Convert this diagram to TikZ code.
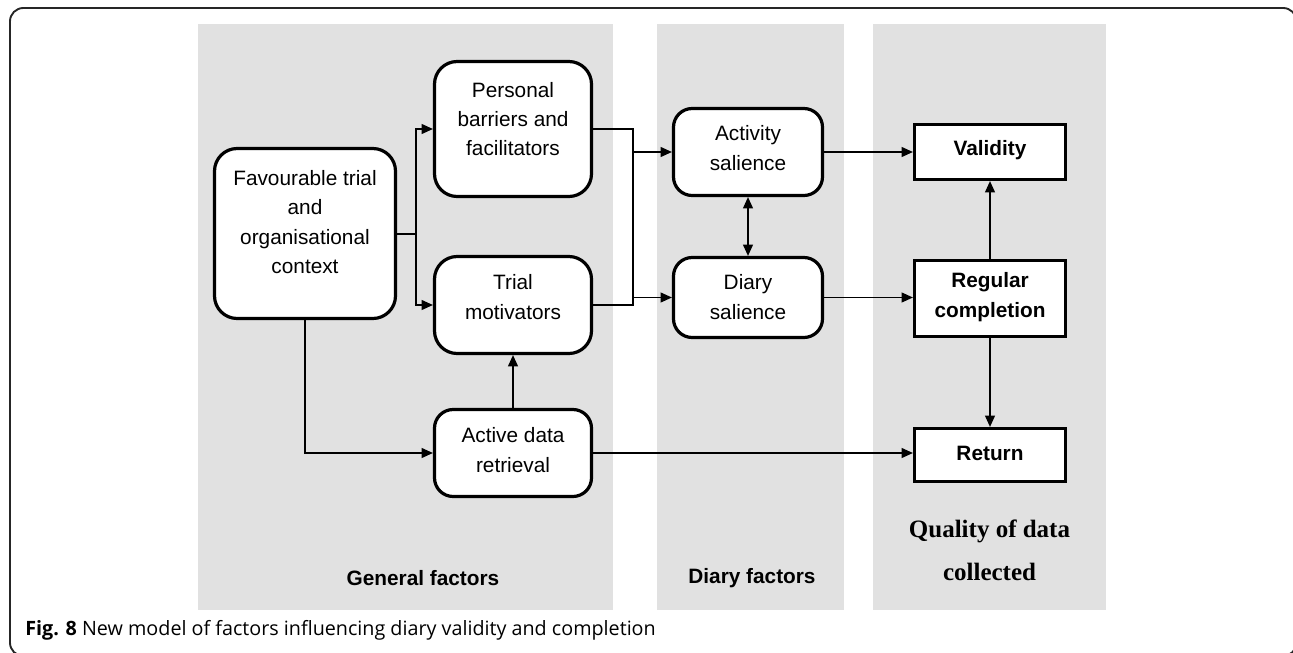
\documentclass[tikz,border=0pt]{standalone}
\usepackage{fontspec}
\setmainfont{Liberation Sans}
\newfontfamily\serifbold{Liberation Serif}
\newfontfamily\capfont{Open Sans}
\usetikzlibrary{arrows.meta,calc}
\definecolor{panel}{RGB}{225,225,225}
\begin{document}
\begin{tikzpicture}[x=0.75pt,y=-0.75pt,
  rbox/.style={draw=black, line width=2.4pt, rounded corners=17pt, fill=white, inner sep=0pt},
  sbox/.style={draw=black, line width=2.4pt, fill=white, inner sep=0pt},
  txt/.style={align=center, font=\fontsize{15.6}{22}\selectfont, inner sep=0pt},
  btxt/.style={align=center, font=\fontsize{15.6}{22}\selectfont\bfseries, inner sep=0pt},
  conn/.style={line width=0.9pt, draw=black},
  arr/.style={conn, -{Triangle[length=8.5pt,width=7.5pt]}},
  darr/.style={conn, {Triangle[length=8.5pt,width=7.5pt]}-{Triangle[length=8.5pt,width=7.5pt]}},
]
\path[use as bounding box] (0,0) rectangle (1293,653);
\clip (0,0) rectangle (1293,653);
% outer frame
\draw[line width=1.4pt, rounded corners=10pt, draw=black!85] (10,8) rectangle (1296.5,656);
% panels
\fill[panel] (198,24) rectangle (613,610);
\fill[panel] (657,24) rectangle (844,610);
\fill[panel] (873,24) rectangle (1106,610);

% boxes
\node[rbox, minimum width=135.75pt, minimum height=127.5pt] (fav) at (305,233.5) {};
\node[rbox, minimum width=117.75pt, minimum height=101.25pt] (per) at (513,129) {};
\node[rbox, minimum width=117.75pt, minimum height=72.75pt] (tri) at (513,305) {};
\node[rbox, rounded corners=14pt, minimum width=117.75pt, minimum height=65.25pt] (act) at (513,453) {};
\node[rbox, rounded corners=14pt, minimum width=111.75pt, minimum height=65.25pt] (asal) at (748,152) {};
\node[rbox, rounded corners=14pt, minimum width=111.75pt, minimum height=60pt] (dsal) at (748,297.5) {};
\node[sbox, minimum width=113.25pt, minimum height=41.25pt] (val) at (990,152) {};
\node[sbox, minimum width=113.25pt, minimum height=57pt] (reg) at (990,298.5) {};
\node[sbox, minimum width=113.25pt, minimum height=39.75pt] (ret) at (990,455) {};

% box texts
\node[txt] (fav-t) at (305,222) {Favourable trial\\and\\organisational\\context};
\node[txt] (per-t) at (513,119) {Personal\\barriers and\\facilitators};
\node[txt] (tri-t) at (513,297) {Trial\\motivators};
\node[txt] (act-t) at (513,450) {Active data\\retrieval};
\node[txt] (asal-t) at (748,148) {Activity\\salience};
\node[txt] (dsal-t) at (748,297) {Diary\\salience};
\node[btxt] (val-t) at (990,150) {Validity};
\node[btxt] (reg-t) at (990,297) {Regular\\completion};
\node[btxt] (ret-t) at (990,453) {Return};

% connectors
\coordinate (split) at (416,234);
\draw[conn] (fav.east |- split) -- (split);
\draw[arr] (split) |- (per.west);
\draw[arr] (split) |- (tri.west);
\coordinate (jt) at (633,129);
\coordinate (jb) at (633,305);
\draw[conn] (per.east) -- (jt) -- (jb) -- (tri.east);
\draw[arr] (jt |- asal.west) -- (asal.west);
\draw[arr] (jt |- dsal.west) -- (dsal.west);
\draw[arr] (asal.east) -- (val.west);
\draw[arr] (dsal.east) -- (dsal.east -| reg.west);
\draw[darr] (asal.south) -- (dsal.north);
\draw[arr] (reg.north) -- (val.south);
\draw[arr] (reg.south) -- (ret.north);
\draw[arr] (act.north) -- (tri.south);
\draw[arr] (fav.south) |- (act.west);
\draw[arr] (act.east) -- (act.east -| ret.west);

% panel labels
\node[btxt] (gen-l) at (423,578) {General factors};
\node[btxt] (dia-l) at (752,578) {Diary factors};
\node[align=center, inner sep=0pt, font=\serifbold\fontsize{18.75}{32.25}\selectfont\bfseries] (qual-l) at (989.5,550) {Quality of data\\collected};

% caption
\node[anchor=base west, inner sep=0pt, font=\capfont\fontsize{14.8}{17}\selectfont] (cap) at (25,635) {\textbf{Fig. 8} New model of factors influencing diary validity and completion};
\end{tikzpicture}
\end{document}
